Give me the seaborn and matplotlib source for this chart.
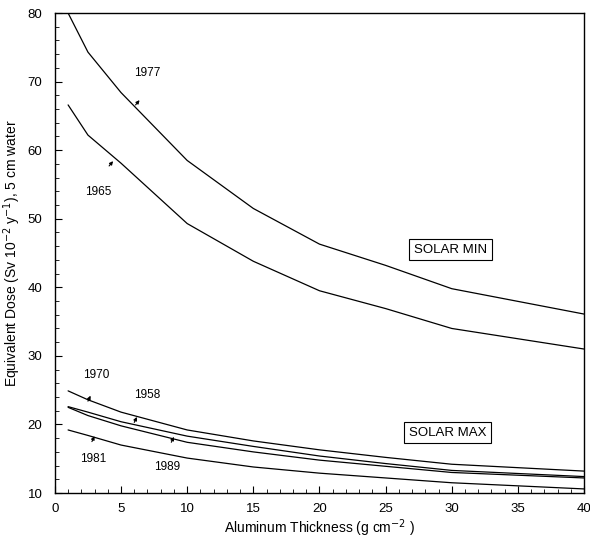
import matplotlib.pyplot as plt
import seaborn as sns
import pandas as pd
from matplotlib.ticker import MultipleLocator

# aluminum thickness (g cm^-2)
thickness = [1, 2.5, 5, 10, 15, 20, 25, 30, 40]

# solar minimum
dose_1977 = [80.0, 74.3, 68.4, 58.5, 51.5, 46.3, 43.2, 39.8, 36.1]
dose_1965 = [66.6, 62.2, 58.1, 49.3, 43.8, 39.5, 36.9, 34.0, 31.0]

# solar maximum
dose_1970 = [24.9, 23.6, 21.8, 19.2, 17.6, 16.3, 15.2, 14.2, 13.2]
dose_1958 = [22.6, 21.8, 20.4, 18.3, 16.8, 15.4, 14.3, 13.3, 12.4]
dose_1981 = [22.5, 21.3, 19.8, 17.4, 16.0, 14.8, 13.9, 13.0, 12.2]
dose_1989 = [19.2, 18.4, 17.0, 15.1, 13.8, 12.9, 12.2, 11.5, 10.6]

series = {
    "1977": dose_1977,
    "1965": dose_1965,
    "1970": dose_1970,
    "1958": dose_1958,
    "1981": dose_1981,
    "1989": dose_1989,
}

rows = []
for yr, vals in series.items():
    for t, v in zip(thickness, vals):
        rows.append({"year": yr, "thickness": t, "dose": v})
df = pd.DataFrame(rows)

sns.set_style("ticks")
plt.rcParams["font.family"] = ["Liberation Sans", "DejaVu Sans"]
plt.rcParams["text.color"] = "black"
plt.rcParams["axes.labelcolor"] = "black"

fig = plt.figure(figsize=(5.9, 5.43), dpi=100)
ax = fig.add_axes([0.093, 0.092, 0.897, 0.884])

for yr in series:
    sns.lineplot(data=df[df.year == yr], x="thickness", y="dose",
                 color="black", lw=0.9, ax=ax, legend=False)

ax.set_xlim(0, 40)
ax.set_ylim(10, 80)
ax.xaxis.set_major_locator(MultipleLocator(5))
ax.xaxis.set_minor_locator(MultipleLocator(1))
ax.yaxis.set_major_locator(MultipleLocator(10))
ax.yaxis.set_minor_locator(MultipleLocator(2))
ax.tick_params(which="both", direction="in", top=False, right=False,
               labelsize=9.5, color="black", labelcolor="black")
ax.tick_params(which="major", length=5, width=0.8)
ax.tick_params(which="minor", length=3, width=0.6)
ax.tick_params(axis="x", which="major", pad=7)
ax.tick_params(axis="y", which="major", pad=9)
for s in ax.spines.values():
    s.set_linewidth(1.0)
    s.set_color("black")

ax.set_xlabel("Aluminum Thickness (g cm$^{-2}$ )", fontsize=10, labelpad=2)
ax.set_ylabel("Equivalent Dose (Sv 10$^{-2}$ y$^{-1}$), 5 cm water",
              fontsize=10, labelpad=3)

# curve labels
labels = [("1977", 7.0, 71.3), ("1965", 3.3, 53.9), ("1970", 3.1, 27.2),
          ("1958", 7.0, 24.3), ("1981", 2.9, 15.0), ("1989", 8.5, 13.8)]
for txt, x, y in labels:
    ax.text(x, y, txt, fontsize=8.5, ha="center", va="center")

# small pointer marks
pointers = [((6.1, 66.6), (6.4, 67.3)), ((4.1, 57.7), (4.4, 58.4)),
            ((2.5, 23.4), (2.7, 24.2)), ((6.0, 20.3), (6.2, 21.1)),
            ((2.8, 17.5), (3.0, 18.3)), ((8.8, 17.4), (9.0, 18.2))]
for (x0, y0), (x1, y1) in pointers:
    ax.annotate("", xy=(x1, y1), xytext=(x0, y0),
                arrowprops=dict(arrowstyle="-|>", color="black", lw=0.8,
                                mutation_scale=5, shrinkA=0, shrinkB=0))

box = dict(boxstyle="square,pad=0.35", fc="white", ec="black", lw=0.8)
ax.text(29.9, 45.5, "SOLAR MIN", fontsize=9.5, ha="center", va="center", bbox=box)
ax.text(29.7, 18.8, "SOLAR MAX", fontsize=9.5, ha="center", va="center", bbox=box)

fig.savefig("out.png", dpi=100)
